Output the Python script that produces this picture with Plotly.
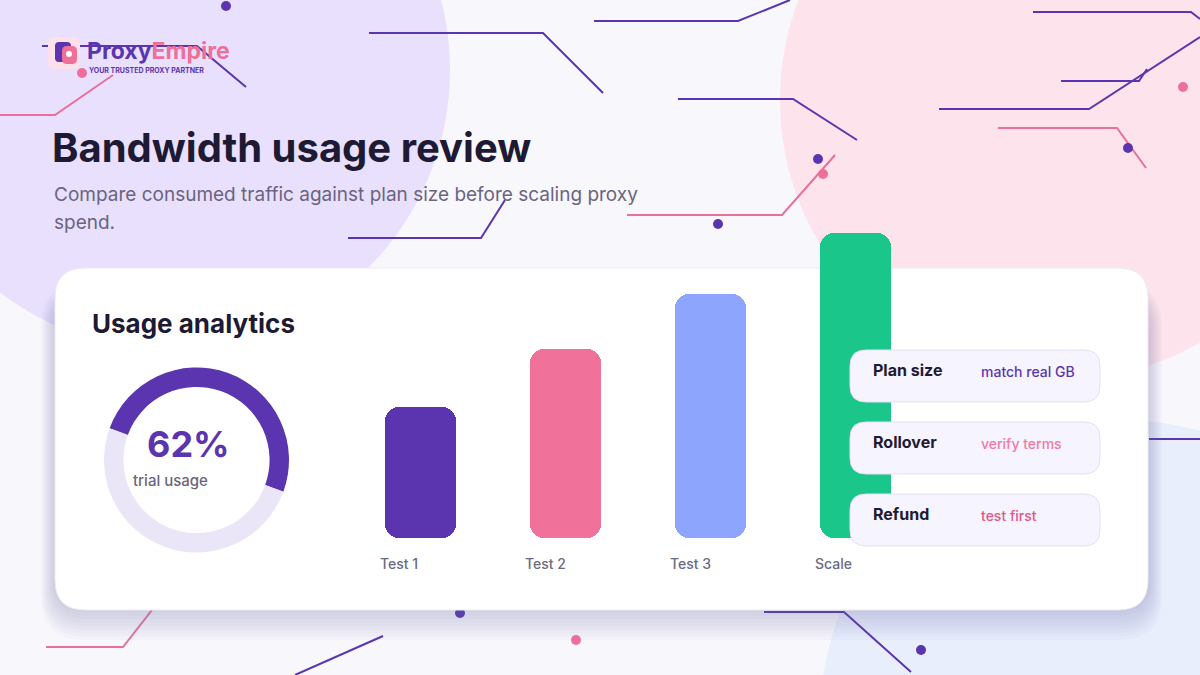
import plotly.graph_objects as go

# ---------------- data ----------------
categories = ["Test 1", "Test 2", "Test 3", "Scale"]
bar_values = [43, 62, 80, 100]          # relative usage (Scale = 100)
bar_base = [0, 0, 0, 0]
bar_colors = ["#5b35b0", "#f0729b", "#8ea5fd", "#1bc68a"]

donut_labels = ["used", "remaining"]
donut_values = [50, 50]                  # arc as drawn
donut_colors = ["#5b35b0", "#ebe6f7"]
donut_center_text = "62%"
donut_sub_text = "trial usage"

info_keys = ["Plan size", "Rollover", "Refund"]
info_vals = ["match real GB", "verify terms", "test first"]
info_colors = ["#5b35b0", "#f07aa3", "#e2568a"]

W, H = 1200, 675
PURPLE = "#5b35b0"
PINK = "#e8709a"
DARK = "#1e1a33"
MUTED = "#6b6480"
FONT = "Inter"


def rrect(x0, y0, x1, y1, r):
    return (f"M {x0+r},{y0} L {x1-r},{y0} Q {x1},{y0} {x1},{y0+r} "
            f"L {x1},{y1-r} Q {x1},{y1} {x1-r},{y1} L {x0+r},{y1} "
            f"Q {x0},{y1} {x0},{y1-r} L {x0},{y0+r} Q {x0},{y0} {x0+r},{y0} Z")


shapes = []
# background blobs
shapes.append(dict(type="circle", x0=170-280, y0=70-280, x1=170+280, y1=70+280,
                   fillcolor="#e8e0fd", line_width=0, layer="below"))
shapes.append(dict(type="circle", x0=1060-280, y0=100-280, x1=1060+280, y1=100+280,
                   fillcolor="#fde4ec", line_width=0, layer="below"))
shapes.append(dict(type="circle", x0=1120-300, y0=720-300, x1=1120+300, y1=720+300,
                   fillcolor="#e8eefc", line_width=0, layer="below"))

# circuit lines
lines = [
    ([(594, 21), (738, 21), (790, 0)], PURPLE),
    ([(369, 33), (543, 33), (603, 93)], PURPLE),
    ([(42, 46), (197, 46), (246, 87)], PURPLE),
    ([(0, 115), (55, 115), (113, 75)], PINK),
    ([(678, 99), (793, 99), (857, 140)], PURPLE),
    ([(1033, 12), (1191, 12), (1200, 19)], PURPLE),
    ([(1061, 81), (1139, 81), (1147, 69)], PURPLE),
    ([(939, 109), (1089, 109), (1200, 37)], PURPLE),
    ([(998, 128), (1117, 128), (1146, 168)], PINK),
    ([(627, 215), (782, 215), (835, 155)], PINK),
    ([(348, 238), (481, 238), (505, 200)], PURPLE),
    ([(46, 647), (123, 647), (152, 610)], PINK),
    ([(295, 675), (383, 636)], PURPLE),
    ([(764, 612), (844, 612), (911, 672)], PURPLE),
    ([(1149, 439), (1200, 439)], PURPLE),
]
for pts, col in lines:
    p = "M " + " L ".join(f"{x},{y}" for x, y in pts)
    shapes.append(dict(type="path", path=p, line=dict(color=col, width=2), layer="below"))

dots = [(226, 6, PURPLE), (82, 73, "#ee6f9a"), (818, 159, PURPLE), (823, 174, "#ee6f9a"),
        (718, 224, PURPLE), (1128, 148, PURPLE), (1183, 87, "#ee6f9a"),
        (460, 613, PURPLE), (576, 640, "#ee6f9a"), (921, 650, PURPLE)]
for x, y, c in dots:
    shapes.append(dict(type="circle", x0=x-5, y0=y-5, x1=x+5, y1=y+5,
                       fillcolor=c, line_width=0, layer="below"))

# logo icon
shapes.append(dict(type="path", path=rrect(48, 37, 80, 69, 7), fillcolor="#fde0ea",
                   line_width=0, layer="below"))
shapes.append(dict(type="path", path=rrect(55, 42, 71, 62, 4), fillcolor=PURPLE,
                   line_width=0, layer="below"))
shapes.append(dict(type="path", path=rrect(62, 46, 77, 64, 5), fillcolor="#ee6f9a",
                   line_width=0, layer="below"))
shapes.append(dict(type="circle", x0=66, y0=51, x1=72, y1=57, fillcolor="white",
                   line_width=0, layer="below"))

# card shadow (mostly below) + card
for i in range(9):
    e = 2 + i * 1.5
    shapes.append(dict(type="path",
                       path=rrect(55 - e, 268 + 30 - i * 2, 1148 + e, 612 + i * 3.5, 30 + e),
                       fillcolor="rgba(110,110,170,0.035)", line_width=0, layer="below"))
shapes.append(dict(type="path", path=rrect(55, 268, 1148, 610, 30), fillcolor="white",
                   line=dict(color="#ece9f5", width=1), layer="below"))

# info cards (above bars)
for i in range(3):
    y0 = 350 + i * 72
    shapes.append(dict(type="path", path=rrect(850, y0, 1100, y0 + 52, 16),
                       fillcolor="#f6f4fe", line=dict(color="#e4e0f2", width=1),
                       layer="above"))

annotations = []


def txt(x, y, s, size, color, weight=400, xanchor="left", **kw):
    annotations.append(dict(x=x, y=y, xref="x", yref="y", text=s, showarrow=False,
                            xanchor=xanchor, yanchor="middle",
                            font=dict(family=FONT, size=size, color=color, weight=weight), **kw))


# logo text
txt(86, 51, f"<span style='color:{PURPLE}'>Proxy</span><span style='color:#ee6f9a'>Empire</span>",
    23, PURPLE, 700, borderpad=0)
txt(88, 70, "YOUR TRUSTED PROXY PARTNER", 7, PURPLE, 700, borderpad=0)

# titles
txt(50, 147, "Bandwidth usage review", 40, DARK, 700)
txt(52, 194, "Compare consumed traffic against plan size before scaling proxy", 19, MUTED, 400)
txt(52, 222, "spend.", 19, MUTED, 400)
txt(90, 323, "Usage analytics", 26, DARK, 700)

# donut text
txt(188, 444, donut_center_text, 36, PURPLE, 700, xanchor="center")
txt(131, 480, donut_sub_text, 15, MUTED, 500)

# info card text
for i in range(3):
    yc = 370 + i * 72
    txt(871, yc, info_keys[i], 16, DARK, 700)
    txt(979, yc + 1, info_vals[i], 14, info_colors[i], 500)

# bar labels
for c in categories:
    annotations.append(dict(x=c, y=563, xref="x2", yref="y", text=c, showarrow=False,
                            xanchor="left", yanchor="middle", xshift=-43,
                            font=dict(family=FONT, size=14, color="#6b6a80", weight=500)))

fig = go.Figure()
# placeholder for pixel axis
fig.add_trace(go.Scatter(x=[None], y=[None], xaxis="x", yaxis="y", showlegend=False,
                         hoverinfo="skip"))

fig.add_trace(go.Bar(x=categories, y=bar_values, base=bar_base, width=0.49,
                     marker=dict(color=bar_colors, cornerradius=14, line_width=0),
                     xaxis="x2", yaxis="y2", showlegend=False, hoverinfo="skip"))

fig.add_trace(go.Pie(labels=donut_labels, values=donut_values, hole=0.79, sort=False,
                     direction="clockwise", rotation=-70,
                     marker=dict(colors=donut_colors, line=dict(width=0)),
                     textinfo="none", hoverinfo="skip", showlegend=False,
                     domain=dict(x=[104 / W, 289 / W], y=[(H - 552.5) / H, (H - 367.5) / H])))

fig.update_layout(
    width=W, height=H, margin=dict(l=0, r=0, t=0, b=0, pad=0),
    paper_bgcolor="#f8f7fc", plot_bgcolor="rgba(0,0,0,0)",
    barmode="overlay", bargap=0,
    xaxis=dict(range=[0, W], domain=[0, 1], visible=False, fixedrange=True),
    yaxis=dict(range=[H, 0], domain=[0, 1], visible=False, fixedrange=True),
    xaxis2=dict(domain=[348 / W, 928 / W], range=[-0.5, 3.5], anchor="y2", visible=False,
                type="category", categoryorder="array", categoryarray=categories),
    yaxis2=dict(domain=[(H - 538) / H, (H - 233) / H], range=[0, 100], anchor="x2",
                visible=False),
    shapes=shapes, annotations=annotations, showlegend=False,
)

fig.write_html("out.html", post_script="document.body.style.margin='0';",
               config={"displayModeBar": False})
